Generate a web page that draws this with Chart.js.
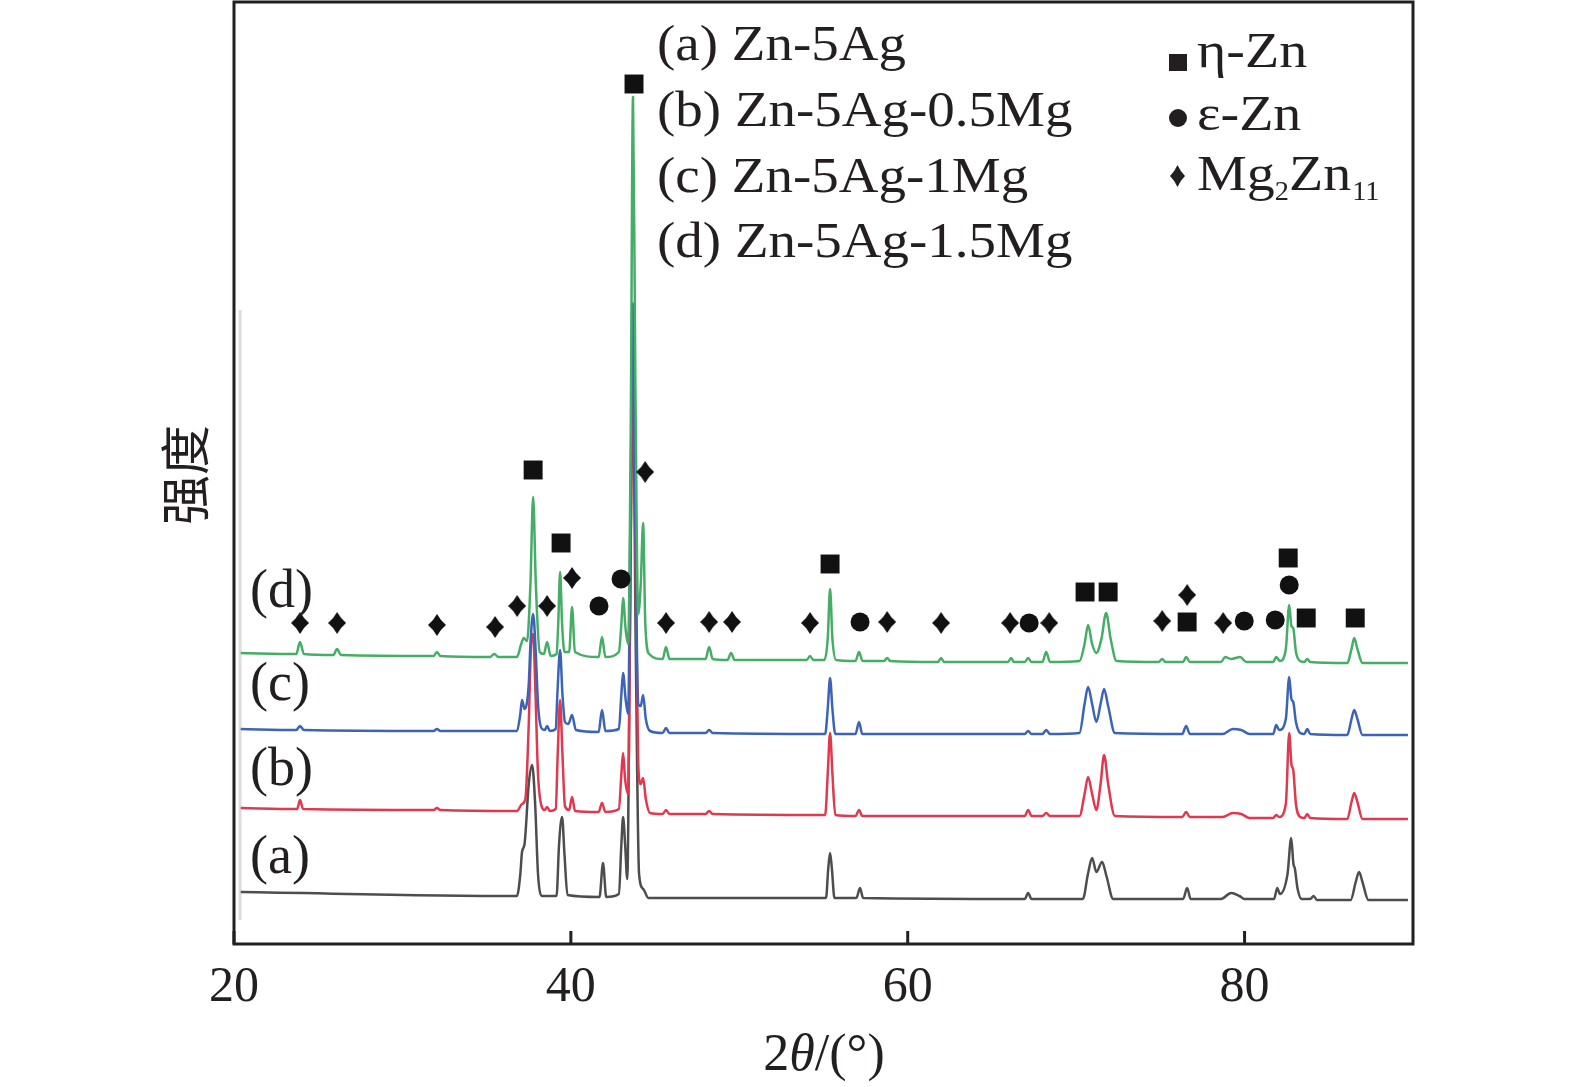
<!DOCTYPE html>
<html>
<head>
<meta charset="utf-8">
<script src="https://cdn.jsdelivr.net/npm/chart.js@4.4.1/dist/chart.umd.min.js"></script>
<style>
  html, body { margin: 0; padding: 0; background: #fff; }
  canvas { display: block; }
</style>
</head>
<body>
<canvas id="xrdChart" width="1575" height="1087"></canvas>
<script>
// tick labels of the 2theta axis
const xTicks = [20, 40, 60, 80];

// names shown in the upper legend and the tags next to each pattern
const sampleNames = ["(a) Zn-5Ag", "(b) Zn-5Ag-0.5Mg", "(c) Zn-5Ag-1Mg", "(d) Zn-5Ag-1.5Mg"];
const sampleTags = ["(a)", "(b)", "(c)", "(d)"];
const sampleTagY = [71, 159, 244, 337];

// [2theta, intensity] (intensity in arbitrary units, stacked)
const patternA = [
  [20.4, 52], [36.8, 48], [37.0, 70], [37.1, 92], [37.25, 100], [37.5, 160], [37.7, 179], [37.88, 140], [38.05, 70], [38.3, 48],
  [39.15, 48], [39.3, 100], [39.48, 127], [39.62, 90], [39.8, 49],
  [41.7, 47], [41.91, 81], [42.1, 47],
  [42.85, 50], [43.0, 100], [43.1, 127], [43.22, 100], [43.35, 65],
  [43.5, 300], [43.69, 560], [43.85, 300], [44.05, 70], [44.3, 55], [44.6, 46],
  [55.15, 46], [55.28, 75], [55.39, 91], [55.5, 75], [55.65, 46],
  [56.95, 46], [57.17, 56], [57.35, 46],
  [66.95, 45], [67.15, 51], [67.35, 45],
  [70.4, 45], [70.7, 70], [70.95, 86], [71.2, 72], [71.54, 82], [71.8, 68], [72.2, 45],
  [76.35, 45], [76.59, 56], [76.8, 45],
  [78.6, 45], [79.2, 51], [79.7, 48], [80.0, 45],
  [81.75, 45], [81.94, 56], [82.1, 50],
  [82.55, 70], [82.77, 106], [82.9, 80], [82.98, 76], [83.15, 55], [83.4, 45],
  [83.9, 45], [84.1, 48], [84.3, 44],
  [86.3, 44], [86.6, 62], [86.8, 72], [87.0, 62], [87.35, 44],
  [89.7, 44]
];

const patternB = [
  [20.4, 136], [23.75, 135], [23.92, 144], [24.1, 135],
  [31.85, 134], [32.05, 136], [32.25, 134],
  [36.8, 133], [37.1, 140], [37.3, 145], [37.5, 220], [37.64, 300], [37.76, 310], [37.9, 250], [38.05, 170], [38.3, 136],
  [38.45, 134], [38.59, 137], [38.75, 133],
  [39.1, 135], [39.22, 190], [39.36, 244], [39.5, 190], [39.65, 138],
  [39.9, 134], [40.07, 147], [40.25, 133],
  [41.65, 132], [41.85, 141], [42.05, 132],
  [42.85, 135], [43.0, 170], [43.1, 191], [43.22, 165], [43.4, 150],
  [43.55, 400], [43.69, 630], [43.83, 400], [44.0, 180], [44.15, 160], [44.29, 166], [44.45, 145], [44.7, 131],
  [45.45, 130], [45.65, 134], [45.85, 130],
  [48.0, 130], [48.21, 133], [48.42, 130],
  [55.1, 129], [55.25, 170], [55.39, 211], [55.53, 170], [55.7, 129],
  [56.9, 128], [57.11, 134], [57.3, 128],
  [66.95, 128], [67.15, 134], [67.35, 128],
  [68.0, 128], [68.22, 131], [68.45, 128],
  [70.2, 128], [70.5, 150], [70.71, 167], [70.95, 150], [71.2, 134], [71.45, 160], [71.66, 189], [71.9, 160], [72.3, 128],
  [76.3, 127], [76.53, 132], [76.75, 127],
  [78.7, 127], [79.3, 131], [79.8, 130], [80.3, 126],
  [81.7, 126], [81.88, 129], [82.05, 127],
  [82.45, 140], [82.65, 211], [82.78, 180], [82.89, 174], [83.05, 140], [83.3, 127],
  [83.55, 126], [83.72, 130], [83.9, 126],
  [86.1, 125], [86.35, 142], [86.51, 151], [86.7, 142], [87.0, 125],
  [89.7, 125]
];

const patternC = [
  [20.4, 215], [23.7, 214], [23.92, 218], [24.15, 214],
  [31.85, 213], [32.05, 215], [32.25, 213],
  [36.8, 213], [37.0, 230], [37.1, 244], [37.25, 235], [37.5, 260], [37.6, 300], [37.76, 330], [37.92, 290], [38.05, 240], [38.25, 216],
  [38.45, 214], [38.59, 218], [38.75, 213],
  [39.1, 215], [39.2, 250], [39.36, 294], [39.5, 250], [39.65, 222], [39.85, 220], [40.07, 229], [40.3, 214],
  [41.65, 212], [41.85, 234], [42.05, 213],
  [42.85, 215], [43.0, 250], [43.1, 271], [43.25, 245], [43.4, 230],
  [43.55, 450], [43.69, 641], [43.83, 420], [44.0, 240], [44.15, 238], [44.29, 249], [44.45, 225], [44.7, 213],
  [45.45, 211], [45.65, 216], [45.85, 211],
  [48.0, 211], [48.21, 214], [48.42, 211],
  [55.1, 210], [55.25, 235], [55.39, 266], [55.53, 235], [55.7, 210],
  [56.9, 210], [57.11, 222], [57.3, 210],
  [66.95, 210], [67.15, 213], [67.35, 210],
  [68.0, 210], [68.22, 214], [68.45, 210],
  [70.2, 211], [70.5, 240], [70.71, 257], [70.95, 240], [71.2, 222], [71.45, 240], [71.66, 255], [71.9, 238], [72.3, 211],
  [76.3, 210], [76.53, 218], [76.75, 210],
  [78.7, 210], [79.3, 215], [79.8, 214], [80.3, 210],
  [81.7, 210], [81.88, 219], [82.05, 214],
  [82.45, 225], [82.65, 267], [82.78, 245], [82.89, 242], [83.05, 222], [83.3, 211],
  [83.55, 210], [83.72, 215], [83.9, 210],
  [86.1, 209], [86.35, 225], [86.51, 234], [86.7, 225], [87.0, 209],
  [89.7, 209]
];

const patternD = [
  [20.4, 291], [23.7, 290], [23.92, 302], [24.15, 290],
  [25.9, 289], [26.12, 295], [26.35, 289],
  [31.85, 288], [32.05, 292], [32.25, 288],
  [35.2, 287], [35.45, 290], [35.7, 287],
  [36.8, 287], [37.05, 300], [37.2, 306], [37.4, 303],
  [37.6, 360], [37.76, 447], [37.92, 360], [38.15, 292],
  [38.4, 290], [38.59, 302], [38.8, 288],
  [39.15, 290], [39.25, 320], [39.36, 372], [39.48, 320], [39.62, 292],
  [39.9, 292], [40.07, 337], [40.24, 292],
  [41.65, 287], [41.85, 307], [42.05, 287],
  [42.85, 292], [43.0, 320], [43.1, 346], [43.25, 315], [43.4, 300],
  [43.55, 500], [43.69, 847], [43.83, 560], [44.0, 330], [44.15, 360], [44.29, 421], [44.42, 320], [44.65, 290],
  [45.45, 285], [45.65, 297], [45.85, 285],
  [48.0, 285], [48.21, 297], [48.42, 285],
  [49.3, 284], [49.51, 291], [49.72, 284],
  [54.0, 284], [54.2, 288], [54.4, 284],
  [55.05, 284], [55.25, 305], [55.39, 355], [55.53, 305], [55.75, 284],
  [56.9, 283], [57.11, 292], [57.32, 283],
  [58.6, 283], [58.78, 286], [58.96, 283],
  [61.8, 282], [61.98, 286], [62.16, 282],
  [65.95, 282], [66.14, 286], [66.3, 282],
  [66.95, 282], [67.15, 286], [67.35, 282],
  [68.0, 282], [68.22, 292], [68.45, 282],
  [70.2, 283], [70.5, 300], [70.71, 319], [70.95, 300], [71.2, 291], [71.5, 305], [71.78, 331], [72.05, 305], [72.4, 283],
  [74.9, 282], [75.11, 285], [75.3, 282],
  [76.35, 282], [76.53, 287], [76.75, 282],
  [78.6, 282], [78.85, 287], [79.2, 285], [79.74, 287], [80.1, 282],
  [81.7, 282], [81.88, 287], [82.1, 283],
  [82.45, 295], [82.65, 339], [82.78, 318], [82.89, 316], [83.05, 292], [83.3, 283],
  [83.55, 282], [83.72, 285], [83.9, 282],
  [86.1, 281], [86.35, 295], [86.51, 306], [86.7, 295], [87.0, 281],
  [89.7, 281]
];

// faint edge of the pasted scan on the left
const scanEdge = [[20.36, 24], [20.36, 634]];

// phase markers: [2theta, height]
const etaZnMarks = [
  [37.76, 474], [39.42, 401], [43.75, 860], [55.39, 380], [70.53, 352], [71.9, 352],
  [76.59, 322], [82.59, 386], [83.66, 326], [86.57, 326]
];
const epsZnMarks = [
  [41.67, 338], [42.98, 365], [57.17, 322], [67.21, 321], [79.98, 323], [81.82, 324], [82.65, 359]
];
const mg2zn11Marks = [
  [23.92, 321], [26.12, 321], [32.05, 319], [35.5, 317], [36.81, 338], [38.59, 338], [40.07, 366],
  [44.41, 472], [45.65, 321], [48.21, 322], [49.57, 322], [54.2, 321], [58.78, 322], [61.98, 321],
  [66.08, 321], [68.4, 321], [75.11, 323], [76.59, 349], [78.73, 321]
];

const SERIF = '"Liberation Serif", "Times New Roman", serif';
const INK = '#231f20';

function toPoints(arr) {
  return arr.map(p => ({ x: p[0], y: p[1] }));
}

function makeDiamond(w, h, color) {
  const c = document.createElement('canvas');
  c.width = w; c.height = h;
  const g = c.getContext('2d');
  g.fillStyle = color;
  g.beginPath();
  g.moveTo(w / 2, 0);
  g.quadraticCurveTo(w * 0.7, h * 0.3, w, h / 2);
  g.quadraticCurveTo(w * 0.7, h * 0.7, w / 2, h);
  g.quadraticCurveTo(w * 0.3, h * 0.7, 0, h / 2);
  g.quadraticCurveTo(w * 0.3, h * 0.3, w / 2, 0);
  g.fill();
  return c;
}

function drawStretched(ctx, text, x, y, size, sx) {
  ctx.save();
  ctx.translate(x, y);
  ctx.scale(sx, 1);
  ctx.font = `${size}px ${SERIF}`;
  ctx.fillText(text, 0, 0);
  const w = ctx.measureText(text).width * sx;
  ctx.restore();
  return w;
}

const decorations = {
  id: 'decorations',
  afterDatasetsDraw(chart) {
    const { ctx, chartArea: a, scales } = chart;
    ctx.save();
    ctx.strokeStyle = INK;
    ctx.lineWidth = 3;
    ctx.strokeRect(a.left, a.top, a.right - a.left, a.bottom - a.top);
    // inward tick marks on the bottom axis
    xTicks.forEach(t => {
      const px = scales.x.getPixelForValue(t);
      ctx.beginPath();
      ctx.moveTo(px, a.bottom);
      ctx.lineTo(px, a.bottom - 13);
      ctx.stroke();
    });
    ctx.restore();
  },
  afterDraw(chart) {
    const { ctx, scales } = chart;
    ctx.save();
    ctx.fillStyle = INK;
    ctx.textBaseline = 'alphabetic';
    ctx.textAlign = 'left';

    // sample legend
    const legendY = [60, 126, 192, 257];
    sampleNames.forEach((s, i) => drawStretched(ctx, s, 657, legendY[i], 50, 1.1));

    // tags beside the patterns
    sampleTags.forEach((s, i) => {
      const px = scales.x.getPixelForValue(20.95);
      const py = scales.y.getPixelForValue(sampleTagY[i]);
      drawStretched(ctx, s, px, py, 54, 1.0);
    });

    // phase legend
    const sx = 1178;
    ctx.fillRect(sx - 9, 54, 18, 17);
    ctx.beginPath();
    ctx.arc(sx, 118, 9, 0, Math.PI * 2);
    ctx.fill();
    ctx.drawImage(makeDiamond(15, 22, INK), sx - 8, 165);
    drawStretched(ctx, 'η-Zn', 1197, 67, 50, 1.12);
    drawStretched(ctx, 'ε-Zn', 1197, 130, 50, 1.12);
    let x = 1197;
    x += drawStretched(ctx, 'Mg', x, 190, 50, 1.12);
    x += drawStretched(ctx, '2', x, 200, 27, 1.05);
    x += drawStretched(ctx, 'Zn', x, 190, 50, 1.12);
    drawStretched(ctx, '11', x + 1, 200, 27, 1.05);

    // x axis title 2θ/(°)
    const parts = [['2', 'normal'], ['θ', 'italic'], ['/(°)', 'normal']];
    let total = 0;
    parts.forEach(p => { ctx.font = `${p[1]} 52px ${SERIF}`; total += ctx.measureText(p[0]).width; });
    let tx = 824 - total / 2;
    parts.forEach(p => {
      ctx.font = `${p[1]} 52px ${SERIF}`;
      ctx.fillText(p[0], tx, 1070);
      tx += ctx.measureText(p[0]).width;
    });

    // y axis title
    ctx.translate(185, 475);
    ctx.rotate(-Math.PI / 2);
    ctx.textAlign = 'center';
    ctx.textBaseline = 'middle';
    ctx.font = '50px "Noto Sans CJK SC", sans-serif';
    ctx.fillText('强度', 0, 0);
    ctx.restore();
  }
};

function lineSet(data, color, order) {
  return {
    type: 'line',
    data: toPoints(data),
    borderColor: color,
    borderWidth: 2.5,
    pointRadius: 0,
    cubicInterpolationMode: 'monotone',
    fill: false,
    order: order
  };
}

function markSet(data, style, radius) {
  return {
    type: 'scatter',
    data: toPoints(data),
    pointStyle: style,
    pointRadius: radius,
    pointHoverRadius: radius,
    backgroundColor: '#111',
    borderColor: '#111',
    borderWidth: 0,
    order: 0
  };
}

document.addEventListener('DOMContentLoaded', () => {
  const canvas = document.getElementById('xrdChart');
  new Chart(canvas, {
    data: {
      datasets: [
        markSet(etaZnMarks, 'rect', 13.4),
        markSet(epsZnMarks, 'circle', 9.5),
        markSet(mg2zn11Marks, makeDiamond(18, 22, '#111'), 11),
        lineSet(patternD, '#45ad66', 1),
        lineSet(patternC, '#3b63b6', 2),
        lineSet(patternB, '#e0384f', 3),
        lineSet(patternA, '#4d4d4d', 4),
        Object.assign(lineSet(scanEdge, '#dcdcdc', 5), { borderWidth: 3 })
      ]
    },
    options: {
      responsive: false,
      animation: false,
      layout: { autoPadding: false, padding: { left: 234, right: 162, top: 2, bottom: 0 } },
      plugins: {
        legend: { display: false },
        tooltip: { enabled: false }
      },
      scales: {
        x: {
          type: 'linear',
          min: 20,
          max: 90,
          grid: { display: false, drawTicks: false },
          border: { display: false },
          ticks: {
            stepSize: 20,
            includeBounds: false,
            padding: 14,
            color: INK,
            font: { family: SERIF, size: 50 }
          },
          afterFit: s => { s.height = 143; }
        },
        y: {
          type: 'linear',
          display: false,
          min: 0,
          max: 942
        }
      }
    },
    plugins: [decorations]
  });
});
</script>
</body>
</html>
